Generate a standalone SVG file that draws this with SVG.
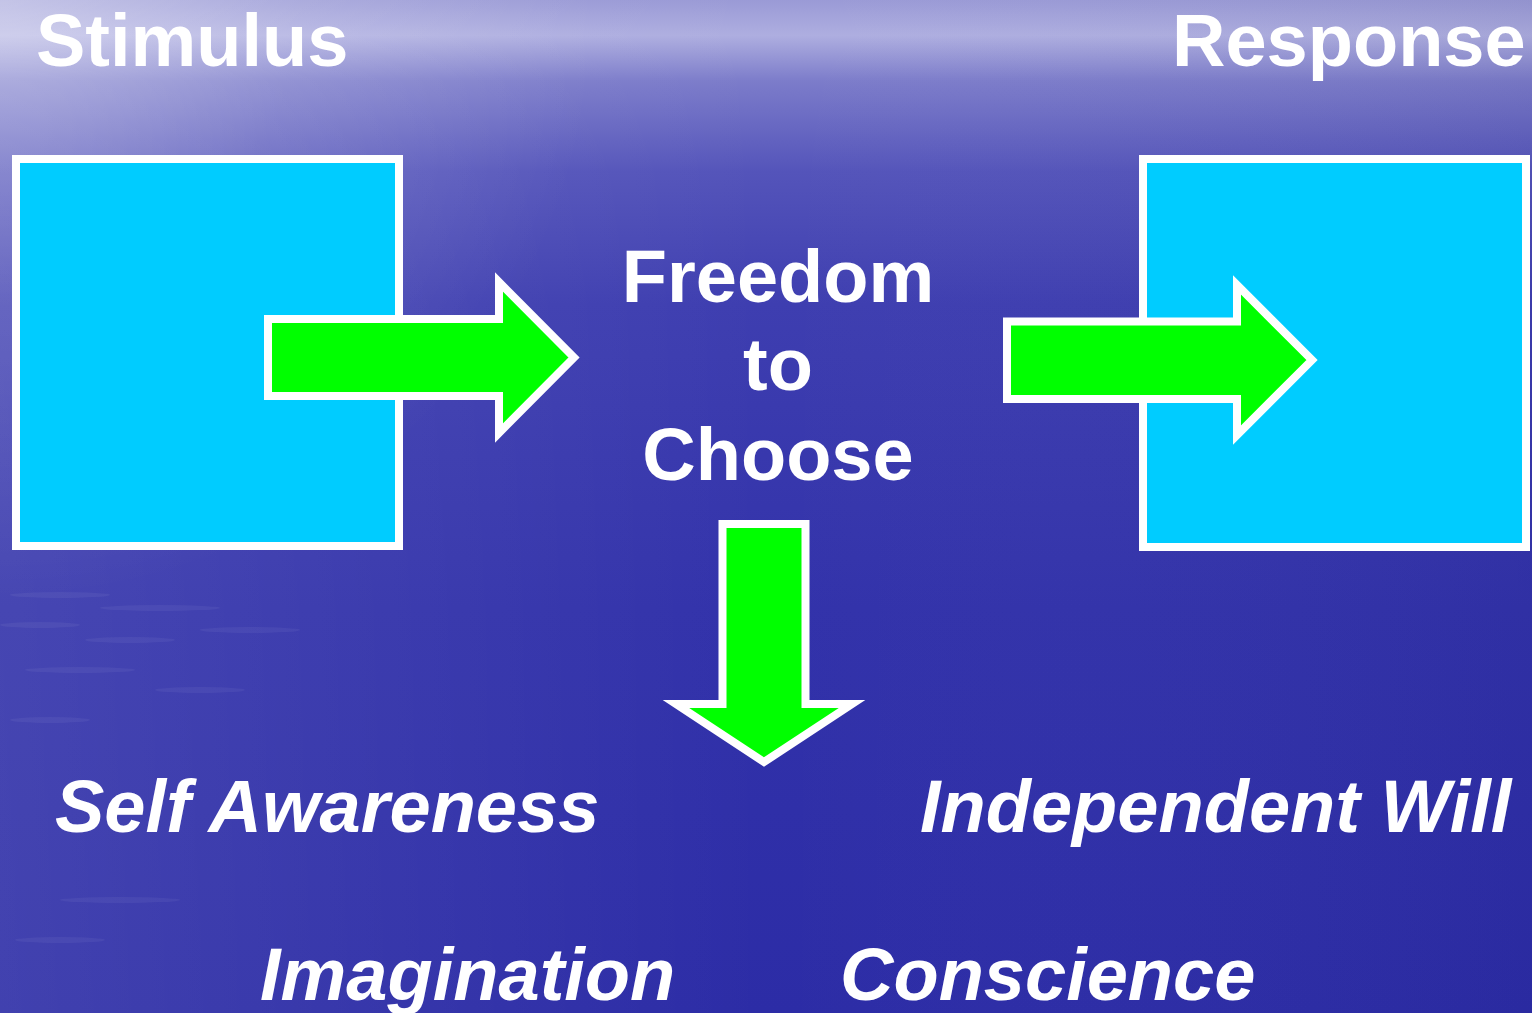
<svg xmlns="http://www.w3.org/2000/svg" width="1532" height="1013" viewBox="0 0 1532 1013">
  <defs>
    <linearGradient id="bgV" x1="0" y1="0" x2="0" y2="1">
      <stop offset="0" stop-color="#9a9ad6"/>
      <stop offset="0.035" stop-color="#aeaee0"/>
      <stop offset="0.08" stop-color="#7c7cca"/>
      <stop offset="0.17" stop-color="#5454ba"/>
      <stop offset="0.3" stop-color="#3e3eb0"/>
      <stop offset="0.6" stop-color="#3232aa"/>
      <stop offset="1" stop-color="#2c2ca6"/>
    </linearGradient>
    <radialGradient id="bgTL" cx="0" cy="0" r="600" gradientUnits="userSpaceOnUse">
      <stop offset="0" stop-color="#ffffff" stop-opacity="0.35"/>
      <stop offset="0.5" stop-color="#ffffff" stop-opacity="0.12"/>
      <stop offset="1" stop-color="#ffffff" stop-opacity="0"/>
    </radialGradient>
    <linearGradient id="bgH" x1="0" y1="0" x2="1" y2="0">
      <stop offset="0" stop-color="#ffffff" stop-opacity="0.1"/>
      <stop offset="0.5" stop-color="#ffffff" stop-opacity="0"/>
      <stop offset="1" stop-color="#000033" stop-opacity="0.05"/>
    </linearGradient>
    <style>
      .box { fill: #00ccff; stroke: #ffffff; stroke-width: 8; }
      .arrow { fill: #00ff00; stroke: #ffffff; stroke-width: 8; stroke-linejoin: miter; stroke-miterlimit: 10; }
      .lbl { font-family: "Liberation Sans", Arial, sans-serif; font-weight: bold; font-size: 74px; fill: #ffffff; }
      .it { font-style: italic; }
      .streak { fill: #ffffff; opacity: 0.05; }
    </style>
  </defs>

  <g id="background">
    <rect x="0" y="0" width="1532" height="1013" fill="url(#bgV)"/>
    <rect x="0" y="0" width="1532" height="1013" fill="url(#bgH)"/>
    <rect x="0" y="0" width="1532" height="1013" fill="url(#bgTL)"/>
    <ellipse class="streak" cx="60" cy="595" rx="50" ry="3"/>
    <ellipse class="streak" cx="160" cy="608" rx="60" ry="3"/>
    <ellipse class="streak" cx="40" cy="625" rx="40" ry="3"/>
    <ellipse class="streak" cx="130" cy="640" rx="45" ry="3"/>
    <ellipse class="streak" cx="250" cy="630" rx="50" ry="3"/>
    <ellipse class="streak" cx="80" cy="670" rx="55" ry="3"/>
    <ellipse class="streak" cx="200" cy="690" rx="45" ry="3"/>
    <ellipse class="streak" cx="50" cy="720" rx="40" ry="3"/>
    <ellipse class="streak" cx="120" cy="900" rx="60" ry="3"/>
    <ellipse class="streak" cx="60" cy="940" rx="45" ry="3"/>
  </g>

  <g id="stimulus-label">
    <text class="lbl" x="36" y="66">Stimulus</text>
  </g>
  <g id="response-label">
    <text class="lbl" x="1172" y="66">Response</text>
  </g>

  <g id="stimulus-box">
    <rect class="box" x="16" y="159" width="383" height="387"/>
  </g>
  <g id="response-box">
    <rect class="box" x="1143" y="159" width="383" height="388"/>
  </g>

  <g id="freedom">
    <text class="lbl" text-anchor="middle" x="778" y="302">Freedom</text>
    <text class="lbl" text-anchor="middle" x="778" y="390">to</text>
    <text class="lbl" text-anchor="middle" x="778" y="480">Choose</text>
  </g>

  <g id="connectors">
    <polygon class="arrow" points="268,319 499,319 499,282 574,357.5 499,433 499,396 268,396"/>
    <polygon class="arrow" points="1007,321.5 1237,321.5 1237,285 1312,360 1237,435 1237,399 1007,399"/>
    <polygon class="arrow" points="722.5,524 805.5,524 805.5,704 852,704 764,762 676,704 722.5,704"/>
  </g>

  <g id="self-awareness">
    <text class="lbl it" x="55" y="832">Self Awareness</text>
  </g>
  <g id="independent-will">
    <text class="lbl it" x="920" y="832">Independent Will</text>
  </g>
  <g id="imagination">
    <text class="lbl it" x="260" y="1000">Imagination</text>
  </g>
  <g id="conscience">
    <text class="lbl it" x="840" y="1000">Conscience</text>
  </g>
</svg>
